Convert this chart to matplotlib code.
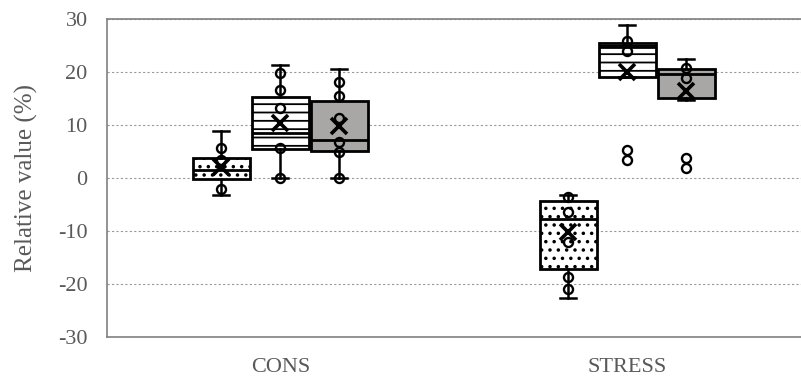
import matplotlib.pyplot as plt
import matplotlib as mpl

plt.rcParams['font.family'] = ['Liberation Serif', 'DejaVu Serif']
plt.rcParams['axes.unicode_minus'] = False
mpl.rcParams['hatch.linewidth'] = 1.3

categories = ["CONS", "STRESS"]
series = ["A", "B", "C"]

# per category, per series: whislo, q1, med, q3, whishi, mean
whislo = [[-3.2, 0.0, 0.0], [-22.7, 19.0, 14.8]]
q1 = [[-0.2, 5.5, 5.1], [-17.2, 19.1, 15.2]]
med = [[1.5, 8.5, 7.2], [-7.7, 24.7, 19.6]]
q3 = [[3.8, 15.3, 14.5], [-4.3, 25.5, 20.6]]
whishi = [[8.9, 21.3, 20.6], [-3.2, 28.9, 22.4]]
means = [[2.1, 10.4, 9.8], [-10.2, 20.0, 16.5]]
points = [
    [[5.6, 3.4, -2.1], [19.8, 16.6, 13.2, 5.6, 0.0], [18.1, 15.5, 11.3, 6.8, 4.9, 0.0]],
    [[-3.6, -6.4, -12.1, -18.7, -21.0], [25.8, 24.0, 5.3, 3.4], [20.8, 18.9, 3.8, 1.9]],
]

hatches = ["..", "--", None]
faces = ["white", "white", "#a9a6a6"]
offsets = [-0.17, 0.0, 0.17]
grey = "#595959"

fig = plt.figure(figsize=(8.01, 3.83), dpi=100)
ax = fig.add_axes([0.1336, 0.12, 0.866, 0.83])

for ci in range(len(categories)):
    for si in range(len(series)):
        pos = ci + 0.5 + offsets[si]
        st = [dict(whislo=whislo[ci][si], q1=q1[ci][si], med=med[ci][si],
                   q3=q3[ci][si], whishi=whishi[ci][si], mean=means[ci][si],
                   fliers=[])]
        b = ax.bxp(st, positions=[pos], widths=0.165, patch_artist=True,
                   showmeans=True, showfliers=False,
                   boxprops=dict(facecolor=faces[si], edgecolor="black", linewidth=2),
                   medianprops=dict(color="black", linewidth=2),
                   whiskerprops=dict(color="black", linewidth=1.8),
                   capprops=dict(color="black", linewidth=1.8),
                   meanprops=dict(marker="x", markeredgecolor="black", markersize=11,
                                  markeredgewidth=2.6))
        for box in b["boxes"]:
            if hatches[si]:
                box.set_hatch(hatches[si])
        for cap in b["caps"]:
            cap.set_xdata([pos - 0.023, pos + 0.023])
        ax.plot([pos] * len(points[ci][si]), points[ci][si], "o", ms=6.5,
                mfc="none", mec="black", mew=1.7, zorder=5)

ax.set_xlim(0, 2)
ax.set_ylim(-30, 30)
ax.set_yticks(range(-30, 31, 10))
ax.set_xticks([0.5, 1.5])
ax.set_xticklabels(categories)
ax.yaxis.grid(True, linestyle=(0, (2, 2)), color="#9a9a9a", linewidth=0.8)
ax.set_axisbelow(True)
ax.tick_params(length=0, labelsize=16, colors=grey, pad=14)
ax.tick_params(axis="x", labelsize=16, pad=15)
ax.set_ylabel("Relative value (%)", fontsize=18, color=grey, labelpad=14)
for s in ax.spines.values():
    s.set_color("#808080")
    s.set_linewidth(1.2)
ax.spines["right"].set_visible(False)

fig.savefig("out.png", dpi=100)
